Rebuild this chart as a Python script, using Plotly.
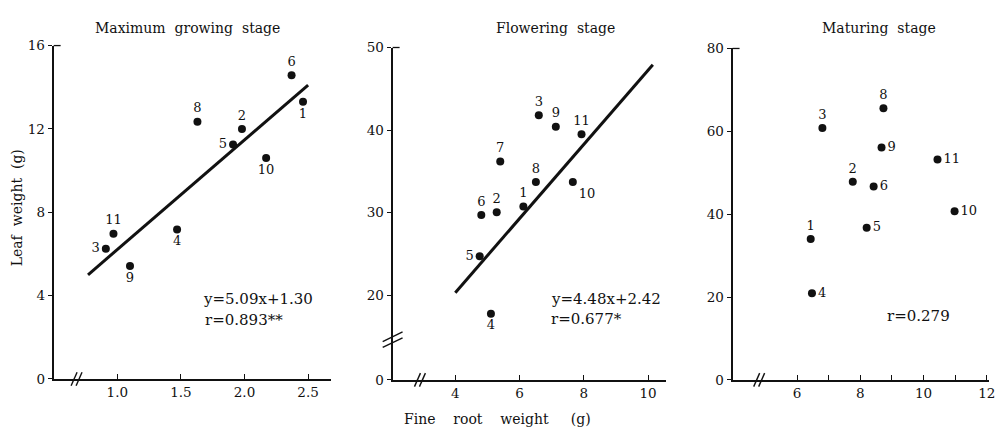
import plotly.graph_objects as go

# ---------------- data ----------------
# Panel 1: Maximum growing stage
p1_id = ["1", "2", "3", "4", "5", "6", "8", "9", "10", "11"]
p1_x = [2.46, 1.98, 0.91, 1.47, 1.91, 2.37, 1.63, 1.10, 2.17, 0.97]
p1_y = [13.3, 12.0, 6.25, 7.17, 11.25, 14.58, 12.35, 5.42, 10.6, 6.97]
p1_pos = ["bottom center", "top center", "middle left", "bottom center", "middle left",
          "top center", "top center", "bottom center", "bottom center", "top center"]
p1_line_x = [0.77, 2.50]
p1_line_y = [5.0, 14.1]
p1_eq = "y=5.09x+1.30"
p1_r = "r=0.893**"

# Panel 2: Flowering stage
p2_id = ["1", "2", "3", "4", "5", "6", "7", "8", "9", "10", "11"]
p2_x = [6.12, 5.29, 6.60, 5.11, 4.76, 4.81, 5.40, 6.51, 7.13, 7.66, 7.93]
p2_y = [30.75, 30.05, 41.8, 17.75, 24.7, 29.7, 36.2, 33.7, 40.4, 33.7, 39.5]
p2_pos = ["top center", "top center", "top center", "bottom center", "middle left",
          "top center", "top center", "top center", "top center", "bottom right", "top center"]
p2_line_x = [4.0, 10.15]
p2_line_y = [20.3, 47.9]
p2_eq = "y=4.48x+2.42"
p2_r = "r=0.677*"

# Panel 3: Maturing stage
p3_id = ["1", "2", "3", "4", "5", "6", "8", "9", "10", "11"]
p3_x = [6.43, 7.76, 6.80, 6.47, 8.20, 8.42, 8.73, 8.67, 10.98, 10.44]
p3_y = [34.0, 47.8, 60.8, 20.9, 36.7, 46.7, 65.6, 56.1, 40.7, 53.2]
p3_pos = ["top center", "top center", "top center", "middle right", "middle right",
          "middle right", "top center", "middle right", "middle right", "middle right"]
p3_r = "r=0.279"

titles = ["Maximum&nbsp; growing&nbsp; stage", "Flowering&nbsp; stage", "Maturing&nbsp; stage"]
x_title = "Fine&nbsp;&nbsp;&nbsp; root&nbsp;&nbsp;&nbsp; weight&nbsp;&nbsp;&nbsp;&nbsp; (g)"
y_title = "Leaf&nbsp; weight&nbsp; (g)"

p1_xticks = [1.0, 1.5, 2.0, 2.5]
p1_xtext = ["1.0", "1.5", "2.0", "2.5"]
p1_yticks = [0, 4, 8, 12, 16]
p2_xticks = [4, 6, 8, 10]
p2_yticks = [9.73, 20, 30, 40, 50]
p2_ytext = ["0", "20", "30", "40", "50"]
p3_xticks = [6, 7, 8, 9, 10, 11, 12]
p3_xtext = ["6", "", "8", "", "10", "", "12"]
p3_yticks = [0, 20, 40, 60, 80]

# ---------------- layout geometry ----------------
W, H = 1004, 438
FONT = "DejaVu Serif"
INK = "#111111"

def xd(a, b):
    return [a / W, b / W]

def yd(top, bottom):
    return [1 - bottom / H, 1 - top / H]

dom = {
    1: dict(x=xd(54, 333), y=yd(39, 385), xr=[0.5, 2.68], yr=[0, 16], tx=189),
    2: dict(x=xd(395, 670), y=yd(41, 386), xr=[2.05, 10.56], yr=[9.73, 50], tx=559),
    3: dict(x=xd(737, 995), y=yd(42, 386), xr=[3.96, 12.07], yr=[0, 80], tx=884),
}

fig = go.Figure()

def ax_names(n):
    return ("x" if n == 1 else f"x{n}"), ("y" if n == 1 else f"y{n}")

def add_points(n, xs, ys, ids, pos):
    xa, ya = ax_names(n)
    fig.add_trace(go.Scatter(
        x=xs, y=ys, text=ids, textposition=pos, mode="markers+text",
        marker=dict(size=8, color=INK),
        textfont=dict(family=FONT, size=13, color=INK),
        xaxis=xa, yaxis=ya, showlegend=False, cliponaxis=False, hoverinfo="skip"))

def add_line(n, xs, ys):
    xa, ya = ax_names(n)
    fig.add_trace(go.Scatter(
        x=xs, y=ys, mode="lines", line=dict(color=INK, width=3),
        xaxis=xa, yaxis=ya, showlegend=False, hoverinfo="skip"))

add_line(1, p1_line_x, p1_line_y)
add_points(1, p1_x, p1_y, p1_id, p1_pos)
add_line(2, p2_line_x, p2_line_y)
add_points(2, p2_x, p2_y, p2_id, p2_pos)
add_points(3, p3_x, p3_y, p3_id, p3_pos)

def xaxis(n, tv, tt):
    d = dom[n]
    return dict(domain=d["x"], range=d["xr"], anchor=ax_names(n)[1],
                showline=True, linecolor=INK, linewidth=1.6, showgrid=False, zeroline=False,
                ticks="inside", ticklen=5, tickwidth=1.3, tickcolor=INK,
                tickvals=tv, ticktext=tt,
                tickfont=dict(family=FONT, size=13.5, color=INK))

def yaxis(n, tv, tt):
    d = dom[n]
    return dict(domain=d["y"], range=d["yr"], anchor=ax_names(n)[0],
                showline=True, linecolor=INK, linewidth=2, showgrid=False, zeroline=False,
                ticks="outside", ticklen=4, tickwidth=1.3, tickcolor=INK,
                tickvals=tv, ticktext=tt,
                tickfont=dict(family=FONT, size=13.5, color=INK))

fig.update_layout(
    width=W, height=H, margin=dict(l=0, r=0, t=0, b=0),
    paper_bgcolor="white", plot_bgcolor="white",
    xaxis=xaxis(1, p1_xticks, p1_xtext),
    yaxis=yaxis(1, p1_yticks, [str(v) for v in p1_yticks]),
    xaxis2=xaxis(2, p2_xticks, [str(v) for v in p2_xticks]),
    yaxis2=yaxis(2, p2_yticks, p2_ytext),
    xaxis3=xaxis(3, p3_xticks, p3_xtext),
    yaxis3=yaxis(3, p3_yticks, [str(v) for v in p3_yticks]),
)

ann = []
for n, t in zip([1, 2, 3], titles):
    ann.append(dict(text=t, x=dom[n]["tx"] / W, y=1 - 21 / H, xref="paper", yref="paper",
                    showarrow=False, xanchor="center", yanchor="middle",
                    font=dict(family=FONT, size=14, color=INK)))
ann.append(dict(text=x_title, x=500 / W, y=1 - 427 / H, xref="paper", yref="paper",
                showarrow=False, xanchor="center", yanchor="middle",
                font=dict(family=FONT, size=14, color=INK)))
ann.append(dict(text=y_title, x=18 / W, y=1 - 207 / H, xref="paper", yref="paper",
                showarrow=False, textangle=-90, xanchor="center", yanchor="middle",
                font=dict(family=FONT, size=14, color=INK)))

def stat(n, txt, x, y):
    xa, ya = ax_names(n)
    ann.append(dict(text=txt, x=x, y=y, xref=xa, yref=ya, showarrow=False,
                    xanchor="left", yanchor="middle",
                    font=dict(family=FONT, size=15, color=INK)))

stat(1, p1_eq, 1.66, 3.85)
stat(1, p1_r, 1.67, 2.85)
stat(2, p2_eq, 6.93, 19.5)
stat(2, p2_r, 6.93, 17.1)
stat(3, p3_r, 8.77, 15.5)

fig.update_layout(annotations=ann)

# axis-break marks and top hooks
def to_px(n, x, y):
    d = dom[n]
    fx = d["x"][0] + (x - d["xr"][0]) / (d["xr"][1] - d["xr"][0]) * (d["x"][1] - d["x"][0])
    fy = d["y"][0] + (y - d["yr"][0]) / (d["yr"][1] - d["yr"][0]) * (d["y"][1] - d["y"][0])
    return fx * W, (1 - fy) * H

shapes = []
def seg(x0, y0, x1, y1, w=1.4):
    shapes.append(dict(type="line", xref="paper", yref="paper",
                       x0=x0 / W, y0=1 - y0 / H, x1=x1 / W, y1=1 - y1 / H,
                       line=dict(color=INK, width=w)))

def slash_pair(cx, cy, dx, dy, gap_x, gap_y):
    for k in (-0.5, 0.5):
        ox, oy = k * gap_x, k * gap_y
        seg(cx + ox - dx, cy + oy + dy, cx + ox + dx, cy + oy - dy)

for n, bx in [(1, 0.68), (2, 2.9), (3, 4.8)]:
    cx, cy = to_px(n, bx, dom[n]["yr"][0])
    slash_pair(cx, cy, 3, 7, 5, 0)
cx, cy = to_px(2, dom[2]["xr"][0], 14.6)
slash_pair(cx, cy, 10, 5, 0, 6)

for n in (1, 2, 3):
    ax_x, top_y = to_px(n, dom[n]["xr"][0], dom[n]["yr"][1])
    seg(ax_x, top_y, ax_x + 7, top_y, 1.3)

fig.update_layout(shapes=shapes)

fig.write_html("out.html", config={"displayModeBar": False},
               post_script="document.body.style.margin='0';document.body.style.overflow='hidden';")
